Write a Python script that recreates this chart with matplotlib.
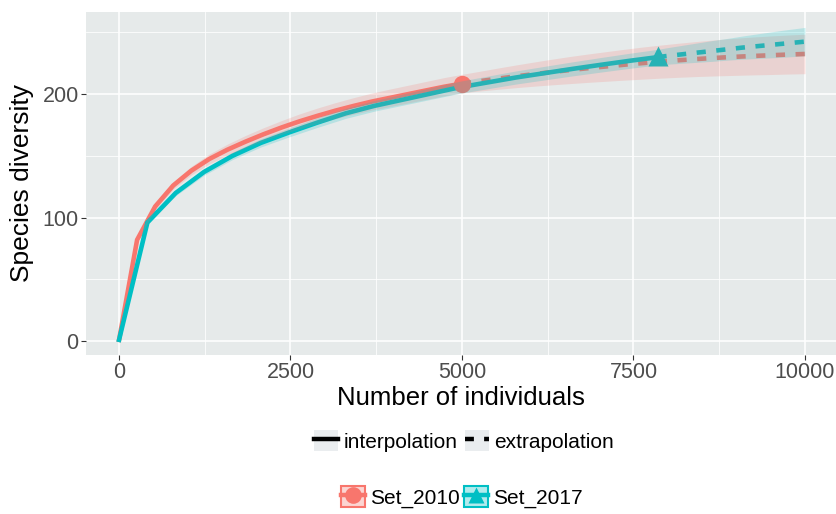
import matplotlib
matplotlib.use("Agg")
import matplotlib.pyplot as plt
from matplotlib.lines import Line2D
from matplotlib.patches import Patch
from matplotlib.legend_handler import HandlerTuple
from matplotlib.ticker import MultipleLocator

plt.rcParams['font.family'] = ['Liberation Sans', 'DejaVu Sans']

# Set_2010 (n = 5000)
x_2010_int = [1, 264, 527, 790, 1053, 1316, 1579, 1842, 2105, 2368, 2631, 2894, 3157, 3420, 3683, 3946, 4209, 4472, 4735, 5000]
y_2010_int = [1, 82, 109, 126, 138, 147.5, 155, 161.5, 167.5, 173, 178, 182.5, 186.7, 190.5, 194, 197, 200, 203, 206, 208.6]
lo_2010_int = [1, 80.5, 106.5, 123, 134.5, 143.5, 150.5, 156.5, 162.2, 167.4, 172, 176.2, 180.2, 183.8, 187.1, 189.9, 192.8, 195.7, 198.6, 201.1]
hi_2010_int = [1, 83.5, 111.5, 129, 141.5, 151.5, 159.5, 166.5, 172.8, 178.6, 184, 188.8, 193.2, 197.2, 200.9, 204.1, 207.2, 210.3, 213.4, 216.1]
x_2010_ext = [5000, 5263, 5526, 5789, 6053, 6316, 6579, 6842, 7105, 7368, 7632, 7895, 8158, 8421, 8684, 8947, 9211, 9474, 9737, 10000]
y_2010_ext = [208.6, 210.6, 212.6, 214.5, 216.3, 218, 219.6, 221.1, 222.5, 223.9, 225.2, 226.4, 227.5, 228.5, 229.4, 230.2, 230.9, 231.5, 232.1, 232.6]
lo_2010_ext = [201.1, 202.6, 204, 205.3, 206.5, 207.6, 208.6, 209.6, 210.5, 211.4, 212.2, 213, 213.7, 214.3, 214.8, 215.2, 215.6, 215.9, 216.3, 216.6]
hi_2010_ext = [216.1, 218.6, 221.2, 223.7, 226.1, 228.4, 230.6, 232.6, 234.5, 236.4, 238.2, 239.8, 241.3, 242.7, 244, 245.2, 246.2, 247.1, 247.9, 248.6]

# Set_2017 (n = 7850)
x_2017_int = [1, 414, 827, 1240, 1653, 2066, 2479, 2892, 3305, 3718, 4131, 4544, 4957, 5370, 5783, 6196, 6609, 7022, 7435, 7850]
y_2017_int = [1, 96, 120, 137, 150, 160.5, 169, 177, 184.5, 190.5, 195.5, 200.5, 205.5, 209.5, 213.5, 217, 220.5, 223.8, 227, 230]
lo_2017_int = [1, 94.5, 117.8, 134.3, 147, 157.2, 165.4, 173.1, 180.4, 186.2, 191, 195.8, 200.6, 204.4, 208.2, 211.5, 214.8, 217.9, 220.9, 223.7]
hi_2017_int = [1, 97.5, 122.2, 139.7, 153, 163.8, 172.6, 180.9, 188.6, 194.8, 200, 205.2, 210.4, 214.6, 218.8, 222.5, 226.2, 229.7, 233.1, 236.3]
x_2017_ext = [7850, 7963, 8076, 8189, 8303, 8416, 8529, 8642, 8755, 8868, 8982, 9095, 9208, 9321, 9434, 9547, 9661, 9774, 9887, 10000]
y_2017_ext = [230, 230.8, 231.5, 232.2, 232.9, 233.6, 234.3, 235, 235.7, 236.4, 237.1, 237.8, 238.4, 239, 239.6, 240.2, 240.8, 241.4, 242, 242.6]
lo_2017_ext = [223.7, 224.2, 224.6, 225, 225.4, 225.8, 226.2, 226.6, 227.1, 227.6, 228, 228.4, 228.7, 229, 229.3, 229.6, 229.9, 230.3, 230.7, 231.1]
hi_2017_ext = [236.3, 237.4, 238.4, 239.4, 240.4, 241.4, 242.4, 243.4, 244.3, 245.2, 246.2, 247.2, 248.1, 249, 249.9, 250.8, 251.7, 252.5, 253.3, 254.1]

obs_2010 = (5000, 208.6)
obs_2017 = (7850, 231)

red = "#F8766D"
teal = "#00BFC4"
dash = (0, (2.0, 2.3))

fig = plt.figure(figsize=(8.36, 5.14), dpi=100)
ax = fig.add_axes([86 / 836, 1 - 355 / 514, 1 - 86 / 836, (355 - 12) / 514])
ax.set_facecolor("#E6EAEA")
for s in ax.spines.values():
    s.set_visible(False)

ax.xaxis.set_major_locator(MultipleLocator(2500))
ax.xaxis.set_minor_locator(MultipleLocator(1250))
ax.yaxis.set_major_locator(MultipleLocator(100))
ax.yaxis.set_minor_locator(MultipleLocator(50))
ax.grid(which="major", color="white", lw=1.1)
ax.grid(which="minor", color="white", lw=0.55)
ax.set_axisbelow(True)

# lines and observed points
ax.plot(x_2010_int, y_2010_int, color=red, lw=3.3, solid_joinstyle="miter")
ax.plot(x_2010_ext, y_2010_ext, color=red, lw=3.3, linestyle=dash)
ax.plot(x_2017_int, y_2017_int, color=teal, lw=3.3, solid_joinstyle="miter")
ax.plot(x_2017_ext, y_2017_ext, color=teal, lw=3.3, linestyle=dash)
ax.plot(*obs_2010, marker="o", ms=12.5, color=red, mec="none")
ax.plot(*obs_2017, marker="^", ms=14, color=teal, mec="none")

# confidence ribbons on top, like ggiNEXT
ax.fill_between(x_2010_int + x_2010_ext[1:], lo_2010_int + lo_2010_ext[1:], hi_2010_int + hi_2010_ext[1:],
                color=red, alpha=0.2, lw=0, zorder=3)
ax.fill_between(x_2017_int + x_2017_ext[1:], lo_2017_int + lo_2017_ext[1:], hi_2017_int + hi_2017_ext[1:],
                color=teal, alpha=0.2, lw=0, zorder=3)

ax.set_xlim(-481, 10452)
ax.set_ylim(-11.3, 266.6)
ax.tick_params(which="major", length=3.3, width=0.8, color="#333333", labelsize=15.5,
               labelcolor="#4D4D4D", pad=2)
ax.tick_params(which="minor", length=0)
ax.set_xlabel("Number of individuals", fontsize=18.5, labelpad=2)
ax.set_ylabel("Species diversity", fontsize=19, labelpad=6)

# legends
key_bg = "#EAEDEF"
tup = {tuple: HandlerTuple(ndivide=1, pad=0)}
h1 = [(Patch(fc=key_bg, ec="none"), Line2D([], [], color="black", lw=3.2)),
      (Patch(fc=key_bg, ec="none"), Line2D([], [], color="black", lw=3.2, linestyle=dash))]
lg1 = fig.legend(h1, ["interpolation", "extrapolation"], loc="center",
                 bbox_to_anchor=(464 / 836, 1 - 441 / 514), ncol=2, frameon=False,
                 fontsize=15, handlelength=1.15, handleheight=1.15, handletextpad=0.25,
                 columnspacing=0.35, handler_map=tup)
h2 = [(Patch(fc=red, alpha=0.3, ec="none"), Patch(fc="none", ec=red, lw=1.5),
       Line2D([], [], color=red, lw=3.2, marker="o", ms=12, mec="none")),
      (Patch(fc=teal, alpha=0.3, ec="none"), Patch(fc="none", ec=teal, lw=1.5),
       Line2D([], [], color=teal, lw=3.2, marker="^", ms=12, mec="none"))]
lg2 = fig.legend(h2, ["Set_2010", "Set_2017"], loc="center",
                 bbox_to_anchor=(462 / 836, 1 - 497 / 514), ncol=2, frameon=False,
                 fontsize=15, handlelength=1.15, handleheight=1.15, handletextpad=0.25,
                 columnspacing=0.2, handler_map=tup)

fig.savefig("out.png", dpi=100)
plt.close(fig)
